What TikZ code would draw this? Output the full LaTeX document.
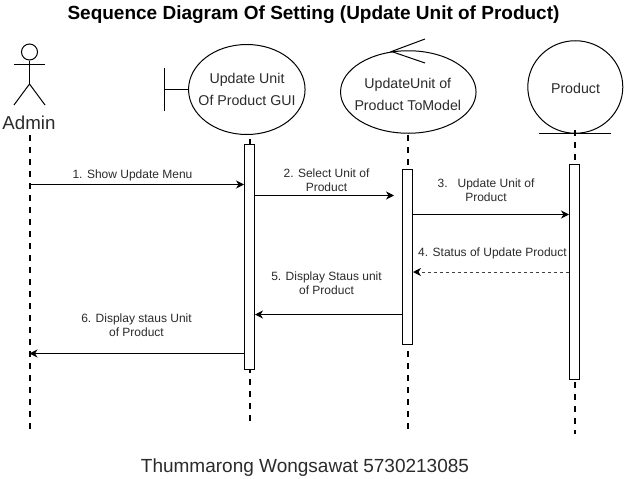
\documentclass[tikz,border=0pt]{standalone}
\usepackage{fontspec}
\setmainfont{Liberation Sans}
\usetikzlibrary{arrows.meta,shapes.geometric}
\definecolor{txt}{HTML}{2B2B2B}
\tikzset{
  shapeline/.style={draw=black,line width=1pt,fill=white},
  figure/.style={draw=black,line width=1pt},
  roundshape/.style={shapeline,ellipse,inner sep=0pt},
  roundtext/.style={inner sep=0pt,align=center,text=txt,font=\fontsize{14.2}{22}\selectfont},
  actbar/.style={shapeline,rectangle,inner sep=0pt,minimum width=10pt},
  lifeline/.style={draw=black,line width=2pt,dash pattern=on 6pt off 6pt},
  msg/.style={draw=black,line width=1pt,-{Stealth[length=8pt,width=8pt,inset=2.5pt]}},
  retmsg/.style={msg,draw=black!75,dash pattern=on 3pt off 3pt,-{Stealth[length=8pt,width=8pt,inset=2.5pt,color=black]}},
  msglabel/.style={align=center,inner sep=0pt,text=txt,font=\fontsize{12}{14}\selectfont},
}
\begin{document}
\begin{tikzpicture}[x=1pt,y=-1pt]
\useasboundingbox (0,0) rectangle (624,479);
\fill[white] (0,0) rectangle (624,479);

% end points of lifelines
\coordinate (endA) at (29.5,430);
\coordinate (endB) at (249.5,424);
\coordinate (endC) at (407.5,434);
\coordinate (endD) at (574.5,434);

% actor
\node[shapeline,circle,minimum size=16pt,inner sep=0pt] (head) at (29.5,52) {};
\coordinate (hip) at (29.5,84);
\coordinate (armL) at (14,64);
\coordinate (armR) at (45,64);
\coordinate (legL) at (14,105);
\coordinate (legR) at (45,105);
\draw[figure] (head.south) -- (hip);
\draw[figure] (armL) -- (armR);
\draw[figure] (legL) -- (hip) -- (legR);
\node[inner sep=0pt,text=txt,font=\fontsize{18.7}{22}\selectfont] (admin) at (29,122.5) {Admin};

% lifelines
\coordinate (startA) at (29.5,135);
\coordinate (startB) at (249.5,139);
\coordinate (startC) at (407.5,135);
\coordinate (startD) at (574.5,130);
\draw[lifeline] (startA) -- (endA);
\draw[lifeline] (startB) -- (endB);
\draw[lifeline] (startC) -- (endC);

% boundary
\node[roundshape,minimum width=116.5pt,minimum height=90pt] (gui) at (246.8,89.5) {};
\node[roundtext] (guitext) at (247,89.5) {Update Unit\\Of Product GUI};
\coordinate (barT) at (164.5,67.5);
\coordinate (barB) at (164.5,111);
\coordinate (barM) at (164.5,89.5);
\draw[figure] (barT) -- (barB);
\draw[figure] (barM) -- (gui.west);

% control
\node[roundshape,minimum width=135.5pt,minimum height=82.5pt] (ctrl) at (408.3,92) {};
\node[roundtext] (ctrltext) at (407.8,94) {UpdateUnit of\\Product ToModel};
\coordinate (tip) at (391.5,51.5);
\coordinate (tipU) at (425,39);
\coordinate (tipD) at (425,63);
\draw[figure] (tipU) -- (tip) -- (tipD);

% entity
\node[roundshape,minimum width=95pt,minimum height=92.5pt] (prod) at (575.3,87) {};
\node[roundtext] (prodtext) at (575.5,88.5) {Product};
\coordinate (lineL) at (539,133.5);
\coordinate (lineR) at (610.7,133.5);
\draw[figure] (lineL) -- (lineR);
\draw[lifeline] (startD) -- (endD);

% activations
\node[actbar,minimum height=225pt] (actB) at (249.5,257) {};
\node[actbar,minimum height=175pt] (actC) at (407.5,257) {};
\node[actbar,minimum height=215pt] (actD) at (574.5,272) {};

% messages
\coordinate (y1) at (0,184.5);
\coordinate (y2) at (0,195.5);
\coordinate (y3) at (0,214.5);
\coordinate (y4) at (0,272);
\coordinate (y5) at (0,314.5);
\coordinate (y6) at (0,353.5);
\draw[msg] (head |- y1) -- (actB.west |- y1);
\draw[msg] (actB.east |- y2) -- ([xshift=-8pt]actC.west |- y2);
\draw[msg] (actC.east |- y3) -- (actD.west |- y3);
\draw[retmsg] (actD.west |- y4) -- (actC.east |- y4);
\draw[msg] (actC.west |- y5) -- (actB.east |- y5);
\draw[msg] (actB.west |- y6) -- (head |- y6);

% labels
\node[msglabel] (l1) at (132.5,175.5) {1. Show Update Menu};
\node[msglabel] (l2) at (326.5,180) {2. Select Unit of\\Product};
\node[msglabel] (l3) at (486,190) {3.\ \ \ Update Unit of\\Product};
\node[msglabel] (l4) at (492.5,253.5) {4. Status of Update Product};
\node[msglabel] (l5) at (326.5,283) {5. Display Staus unit\\of Product};
\node[msglabel] (l6) at (136.5,325) {6. Display staus Unit\\of Product};

% title and credit
\node[inner sep=0pt,text=black,font=\fontsize{19}{22}\bfseries\selectfont] (title) at (313.5,15) {Sequence Diagram Of Setting (Update Unit of Product)};
\node[inner sep=0pt,text=txt,font=\fontsize{19}{22}\selectfont] (credit) at (305,468) {Thummarong Wongsawat 5730213085};
\end{tikzpicture}
\end{document}
